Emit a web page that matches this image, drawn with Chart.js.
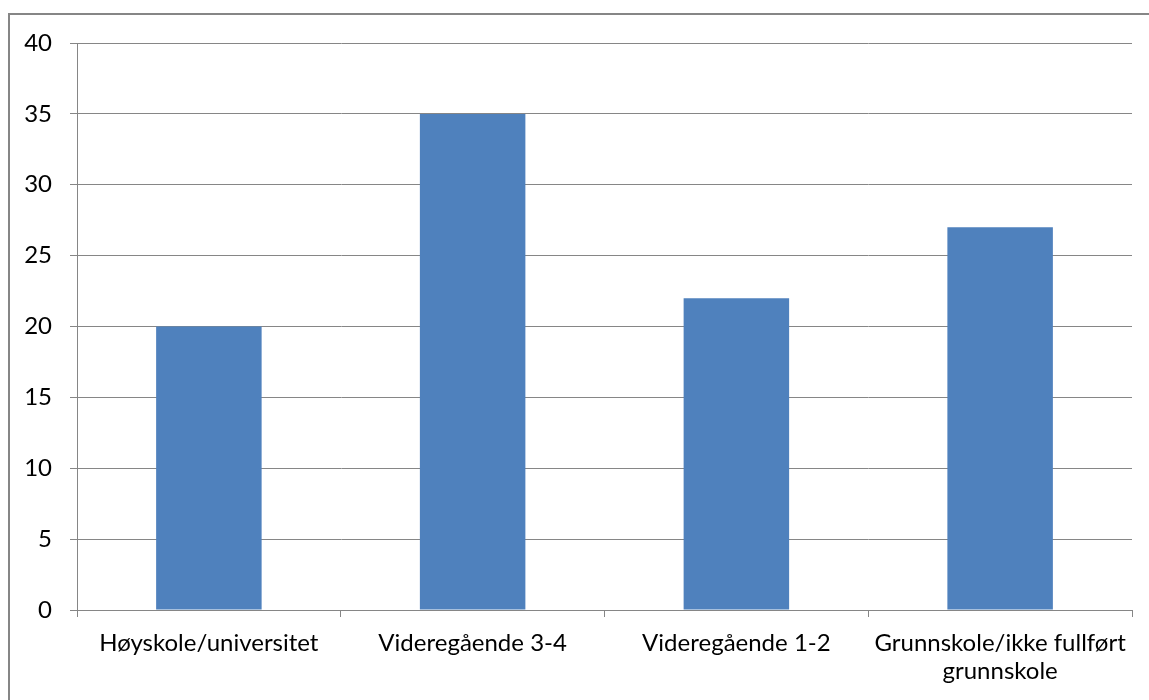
<!DOCTYPE html>
<html lang="en">
<head>
<meta charset="UTF-8">
<title>Utdanning</title>
<script src="https://cdn.jsdelivr.net/npm/chart.js@4.4.1/dist/chart.umd.min.js"></script>
<style>
  body { margin: 0; background: #fff; }
  #frame { position: absolute; left: 8px; top: 13px; width: 1200px; height: 800px; border: 2px solid #868686; }
  #wrap { position: absolute; left: 0; top: 0; width: 1149px; height: 700px; }
</style>
</head>
<body>
<div id="frame"></div>
<div id="wrap"><canvas id="chart"></canvas></div>
<script>
const categories = ['Høyskole/universitet', 'Videregående 3-4', 'Videregående 1-2', ['Grunnskole/ikke fullført', 'grunnskole']];
const values = [20, 35, 22, 27];
const yTicks = [0, 5, 10, 15, 20, 25, 30, 35, 40];

const gridColor = '#868686';
const font = { family: 'Lato, Calibri, sans-serif', size: 24, lineHeight: 1.17 };

new Chart(document.getElementById('chart'), {
  type: 'bar',
  data: {
    labels: categories,
    datasets: [{
      data: values,
      backgroundColor: '#4F81BD',
      barPercentage: 0.4,
      categoryPercentage: 1
    }]
  },
  options: {
    responsive: true,
    maintainAspectRatio: false,
    animation: false,
    layout: { padding: { top: 43, right: 17, left: 0, bottom: 0 } },
    plugins: { legend: { display: false }, tooltip: { enabled: false } },
    scales: {
      x: {
        grid: { offset: true, drawOnChartArea: false, drawTicks: true, tickLength: 7, color: gridColor },
        border: { color: gridColor, width: 1 },
        ticks: { color: '#000', font: font, padding: 12, maxRotation: 0, autoSkip: false },
        afterFit: s => { s.height = 90; }
      },
      y: {
        min: 0, max: 40,
        afterBuildTicks: s => { s.ticks = yTicks.map(v => ({ value: v })); },
        grid: { color: gridColor, tickLength: 7 },
        border: { color: gridColor, width: 1 },
        ticks: { color: '#000', font: font, padding: 18 },
        afterFit: s => { s.width = 77; }
      }
    }
  }
});
</script>
</body>
</html>
